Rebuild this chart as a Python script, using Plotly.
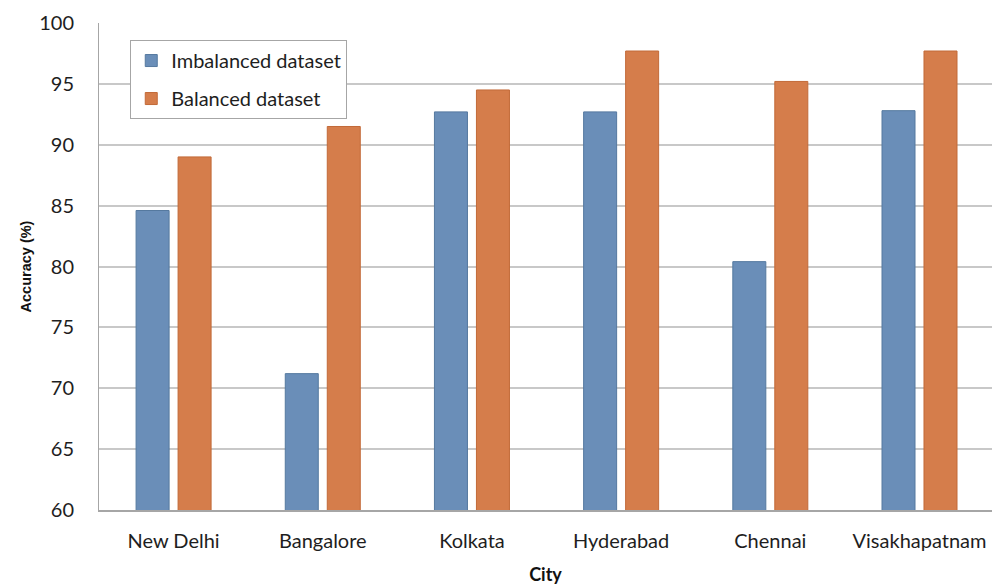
import plotly.graph_objects as go

# Accuracy per city, before and after balancing the training data
cities = ["New Delhi", "Bangalore", "Kolkata", "Hyderabad", "Chennai", "Visakhapatnam"]
imbalanced = [84.6, 71.2, 92.7, 92.7, 80.4, 92.8]
balanced = [89.0, 91.5, 94.5, 97.7, 95.2, 97.7]
y_ticks = [60, 65, 70, 75, 80, 85, 90, 95, 100]

FONT = "Lato"
BLUE, BLUE_EDGE = "#6A8EB8", "#55799F"
ORANGE, ORANGE_EDGE = "#D57D4B", "#C26A38"
TEXT = "#1E1E1E"

fig = go.Figure()
fig.add_trace(go.Bar(
    x=cities, y=imbalanced, name="Imbalanced dataset", legendgroup="a",
    marker=dict(color=BLUE, line=dict(color=BLUE_EDGE, width=1)),
))
fig.add_trace(go.Bar(
    x=cities, y=balanced, name="Balanced dataset", legendgroup="b",
    marker=dict(color=ORANGE, line=dict(color=ORANGE_EDGE, width=1)),
))

fig.update_layout(
    width=992, height=585,
    margin=dict(l=99, r=0, t=23, b=75),
    paper_bgcolor="white", plot_bgcolor="white",
    font=dict(family=FONT, size=20, color=TEXT),
    barmode="group", bargap=0.437, bargroupgap=0.214,
    showlegend=True,
    legend=dict(
        x=0.035, y=0.965, xanchor="left", yanchor="top",
        bgcolor="white", bordercolor="#A6A6A6", borderwidth=1,
        font=dict(family=FONT, size=20, color=TEXT),
        tracegroupgap=9, itemwidth=30,
    ),
    xaxis=dict(
        range=[-0.5, 5.486], showgrid=False,
        showline=True, linecolor="#A6A6A6", linewidth=2,
        ticks="", ticklabelstandoff=12,
        tickfont=dict(family=FONT, size=20, color=TEXT),
        title=dict(text="<b>City</b>", font=dict(family=FONT, size=18, color="#111111"), standoff=20),
        fixedrange=True,
    ),
    yaxis=dict(
        range=[60, 100], tickvals=y_ticks,
        showgrid=True, gridcolor="#C8C8C8", gridwidth=1.5,
        showline=True, linecolor="#A6A6A6", linewidth=1,
        zeroline=False, ticks="", ticklabelstandoff=20,
        tickfont=dict(family=FONT, size=20, color=TEXT),
        title=dict(text="<b>Accuracy (%)</b>",
                   font=dict(family="Liberation Sans", size=14.5, color="#111111"), standoff=4),
        fixedrange=True,
    ),
)

fig.write_html("out.html")
